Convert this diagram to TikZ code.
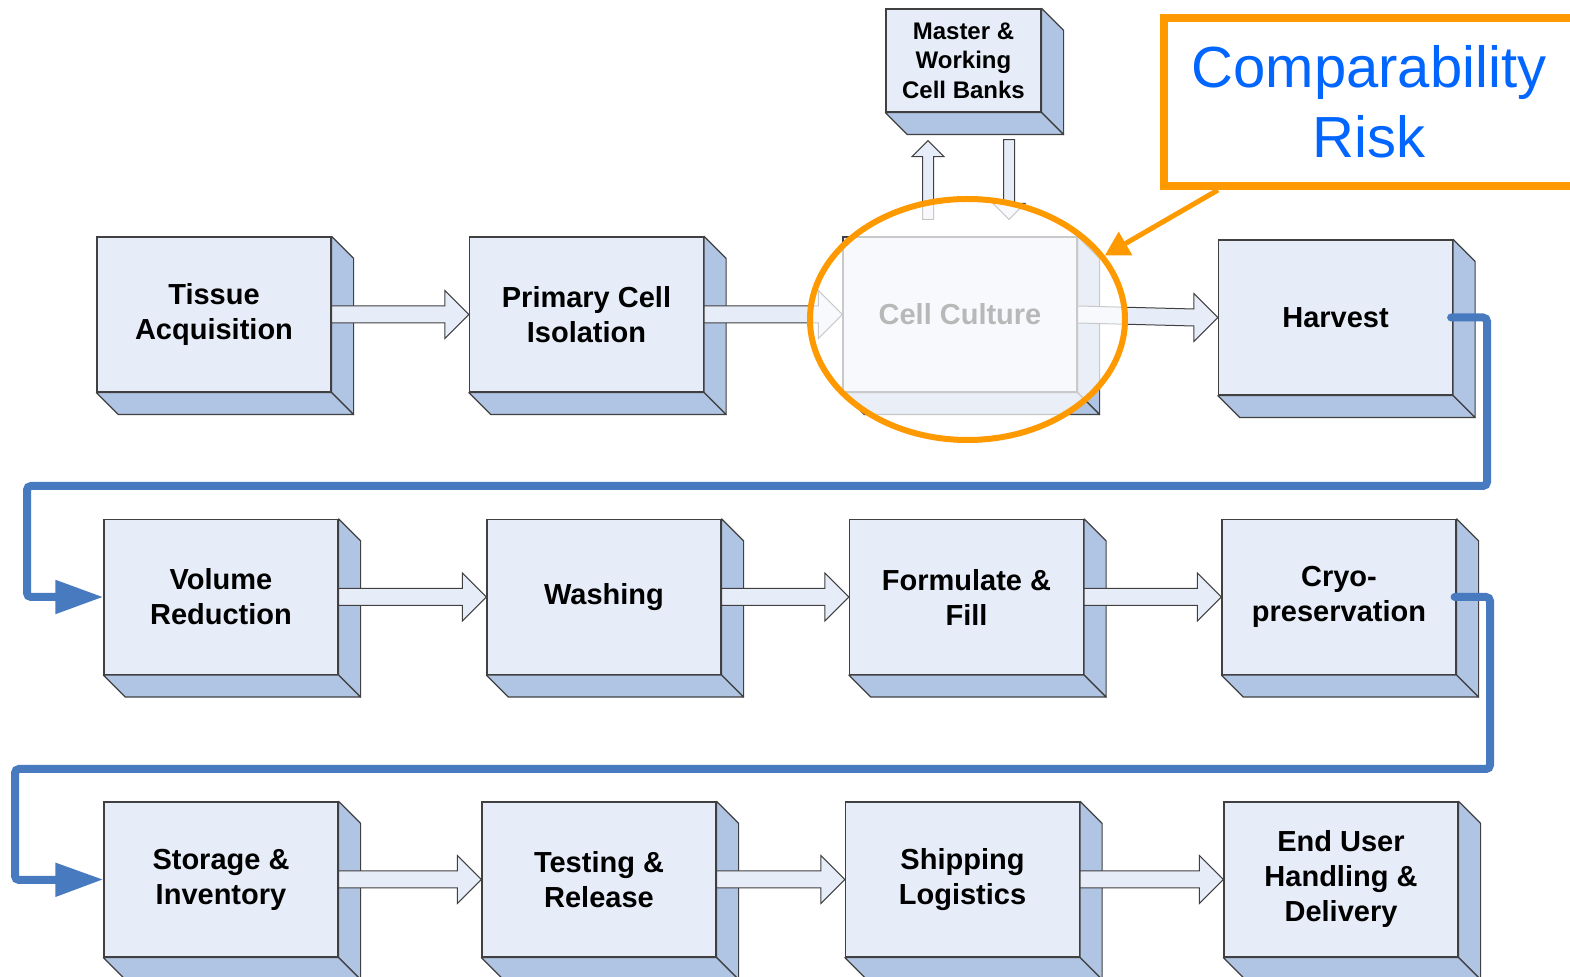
\documentclass[tikz,border=0pt]{standalone}
\usepackage{fontspec}
\setmainfont{Liberation Sans}
\usetikzlibrary{calc,shapes.geometric,arrows.meta}

\definecolor{boxfront}{RGB}{231,237,248}
\definecolor{boxside}{RGB}{176,196,228}
\definecolor{boxline}{RGB}{64,64,64}
\definecolor{flowblue}{RGB}{72,122,192}
\definecolor{riskorange}{RGB}{255,153,0}
\definecolor{riskblue}{RGB}{0,102,255}

\tikzset{
  stage/.style={draw=boxline, fill=boxfront, line width=0.6pt, minimum width=117pt, minimum height=77.5pt,
    inner sep=0pt, align=center, font=\bfseries\fontsize{14.5}{17.5}\selectfont},
  bank/.style={stage, minimum width=77.5pt, minimum height=51.5pt, font=\bfseries\fontsize{12}{14.75}\selectfont},
  sideface/.style={draw=boxline, fill=boxside, line width=0.6pt, line join=round},
  blockarrow/.style={draw=boxline, fill=boxfront, line width=0.5pt},
  flowline/.style={draw=flowblue, line width=4pt, rounded corners=2pt, line cap=round, -{Triangle[length=24pt,width=16pt]}},
  focusring/.style={ellipse, draw=riskorange, line width=3pt, fill=white, fill opacity=0.72, inner sep=0pt,
    minimum width=157.5pt, minimum height=120.5pt},
  riskbox/.style={draw=riskorange, line width=4pt, fill=white, minimum width=205pt, minimum height=84pt,
    align=center, text=riskblue, font=\fontsize{29}{35}\selectfont},
  riskarrow/.style={draw=riskorange, line width=2.5pt, -{Triangle[length=12pt,width=13pt]}}
}

\newcommand{\stagefaces}[1]{%
  \filldraw[sideface] (#1.north east) -- ++(11pt,-11pt) -- ($(#1.south east)+(11pt,-11pt)$) -- (#1.south east) -- cycle;
  \filldraw[sideface] (#1.south west) -- ++(11pt,-11pt) -- ($(#1.south east)+(11pt,-11pt)$) -- (#1.south east) -- cycle;}
\newcommand{\flowarrow}[2]{%
  \filldraw[blockarrow] ($(#1.east)+(0,4.25pt)$) -- ($(#2.west)+(-12pt,4.25pt)$) -- ($(#2.west)+(-12pt,12pt)$)
    -- (#2.west) -- ($(#2.west)+(-12pt,-12pt)$) -- ($(#2.west)+(-12pt,-4.25pt)$) -- ($(#1.east)+(0,-4.25pt)$) -- cycle;}

\begin{document}
\begin{tikzpicture}[x=0.5pt,y=-0.5pt]
  \path[use as bounding box, clip] (0,0) rectangle (1570,977);

  \node[stage] (tissue) at (214,314.5) {Tissue\\Acquisition};
  \node[stage] (primary) at (586.5,314.5) {Primary Cell\\Isolation};
  \node[stage] (culture) at (960,314.5) {Cell Culture};
  \node[stage] (harvest) at (1335.5,317.5) {Harvest};
  \node[bank] (banks) at (963.5,60.5) {Master \&\\Working\\Cell Banks};

  \node[stage] (volume) at (221,597) {Volume\\Reduction};
  \node[stage] (washing) at (604,597) {Washing};
  \node[stage] (formulate) at (966.5,597) {Formulate \&\\Fill};
  \node[stage] (cryo) at (1339,597) {Cryo-\\preservation};

  \node[stage] (storage) at (221,879.5) {Storage \&\\Inventory};
  \node[stage] (testing) at (599,879.5) {Testing \&\\Release};
  \node[stage] (shipping) at (962.5,879.5) {Shipping\\Logistics};
  \node[stage] (enduser) at (1341,879.5) {End User\\Handling \&\\Delivery};

  \foreach \s in {tissue,primary,culture,harvest,banks,volume,washing,formulate,cryo,storage,testing,shipping,enduser}
    {\stagefaces{\s}}

  \flowarrow{tissue}{primary}
  \flowarrow{primary}{culture}
  \flowarrow{culture}{harvest}
  \flowarrow{volume}{washing}
  \flowarrow{washing}{formulate}
  \flowarrow{formulate}{cryo}
  \flowarrow{storage}{testing}
  \flowarrow{testing}{shipping}
  \flowarrow{shipping}{enduser}

  \coordinate (uptip) at ($(banks.south)+(-17.75pt,-14pt)$);
  \coordinate (upfoot) at ($(uptip |- culture.north)+(0,8.5pt)$);
  \filldraw[blockarrow] ($(upfoot)+(-2.75pt,0)$) -- ($(uptip)+(-2.75pt,-8pt)$) -- ($(uptip)+(-8pt,-8pt)$) -- (uptip)
    -- ($(uptip)+(8pt,-8pt)$) -- ($(uptip)+(2.75pt,-8pt)$) -- ($(upfoot)+(2.75pt,0)$) -- cycle;
  \coordinate (downtop) at ($(banks.south)+(22.75pt,-13.5pt)$);
  \coordinate (downtip) at ($(downtop |- culture.north)+(0,8.5pt)$);
  \filldraw[blockarrow] ($(downtop)+(-2.75pt,0)$) -- ($(downtip)+(-2.75pt,8pt)$) -- ($(downtip)+(-8pt,8pt)$) -- (downtip)
    -- ($(downtip)+(8pt,8pt)$) -- ($(downtip)+(2.75pt,8pt)$) -- ($(downtop)+(2.75pt,0)$) -- cycle;

  \node[focusring] (focus) at (967.5,319.5) {};

  \draw[flowline] ([xshift=-1pt]harvest.east) -| (1487,486) -| (27,597) -- (volume.west);
  \draw[flowline] ([xshift=-1pt]cryo.east) -| (1490,769) -| (15,880) -- (storage.west);

  \node[riskbox] (risk) at (1369,102) {Comparability\\Risk};
  \draw[riskarrow] ([xshift=29pt]risk.south west) -- (focus.25);
\end{tikzpicture}
\end{document}
